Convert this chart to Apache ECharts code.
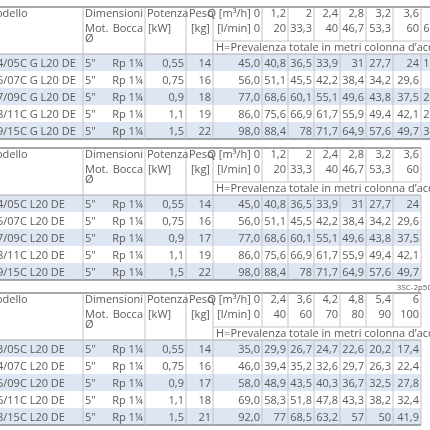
<!DOCTYPE html>
<html>
<head>
<meta charset="utf-8">
<script src="https://cdn.jsdelivr.net/npm/echarts@6/dist/echarts.min.js"></script>
<style>body{margin:0}#main{width:430px;height:430px}</style>
</head>
<body>
<div id="main"></div>
<script>
// dati delle tre tabelle
var blockTops = [7, 148, 293];
var models = [
  ['4/05C G L20 DE', '5/07C G L20 DE', '7/09C G L20 DE', '8/11C G L20 DE', '9/15C G L20 DE'],
  ['4/05C L20 DE', '5/07C L20 DE', '7/09C L20 DE', '8/11C L20 DE', '9/15C L20 DE'],
  ['3/05C L20 DE', '4/07C L20 DE', '5/09C L20 DE', '6/11C L20 DE', '8/15C L20 DE']
];
var mot = '5"';
var bocca = 'Rp 1¼';
var potenza = ['0,55', '0,75', '0,9', '1,1', '1,5'];
var peso = [[14, 16, 18, 19, 22], [14, 16, 17, 19, 22], [14, 16, 17, 18, 21]];
var qM3h = [['1,2', '2', '2,4', '2,8', '3,2', '3,6', '4'], ['1,2', '2', '2,4', '2,8', '3,2', '3,6'], ['2,4', '3,6', '4,2', '4,8', '5,4', '6']];
var qLmin = [['20', '33,3', '40', '46,7', '53,3', '60', '66,7'], ['20', '33,3', '40', '46,7', '53,3', '60'], ['40', '60', '70', '80', '90', '100']];
var heads = [
  [['45,0', '40,8', '36,5', '33,9', '31', '27,7', '24', '19,3'],
   ['56,0', '51,1', '45,5', '42,2', '38,4', '34,2', '29,6', ''],
   ['77,0', '68,6', '60,1', '55,1', '49,6', '43,8', '37,5', '28,9'],
   ['86,0', '75,6', '66,9', '61,7', '55,9', '49,4', '42,1', '29,5'],
   ['98,0', '88,4', '78', '71,7', '64,9', '57,6', '49,7', '38,6']],
  [['45,0', '40,8', '36,5', '33,9', '31', '27,7', '24'],
   ['56,0', '51,1', '45,5', '42,2', '38,4', '34,2', '29,6'],
   ['77,0', '68,6', '60,1', '55,1', '49,6', '43,8', '37,5'],
   ['86,0', '75,6', '66,9', '61,7', '55,9', '49,4', '42,1'],
   ['98,0', '88,4', '78', '71,7', '64,9', '57,6', '49,7']],
  [['35,0', '29,9', '26,7', '24,7', '22,6', '20,2', '17,4'],
   ['46,0', '39,4', '35,2', '32,6', '29,7', '26,3', '22,4'],
   ['58,0', '48,9', '43,5', '40,3', '36,7', '32,5', '27,8'],
   ['69,0', '58,3', '51,8', '47,8', '43,3', '38,2', '32,4'],
   ['92,0', '77', '68,5', '63,2', '57', '50', '41,9']]
];
var hLabel = ['H=Prevalenza totale in metri colonna d’acqua [m]', 'H=Prevalenza totale in metri colonna d’acqua', 'H=Prevalenza totale in metri colonna d’acqua'];

// layout
var leftLines = [83, 145, 186, 213];
var valLines = [262, 288, 314, 340, 366, 393, 421, 447];
var rowH = 17, headH = 47, subH = 34;
var TXT = '#5a5a5a';

var cells = [];   // sfondi righe
var texts = [];
var lines = [];
function T(x, y, s, align, size) { texts.push({ value: [x, y], s: s, align: align || 'left', size: size || 11 }); }

blockTops.forEach(function (top, b) {
  var nCols = heads[b][0].length;
  var right = valLines[nCols - 1];
  var y0 = top + headH, bottom = y0 + rowH * 5;
  for (var r = 0; r < 5; r++) {
    if (r % 2 === 0) cells.push({ value: [-2, y0 + r * rowH, right, y0 + (r + 1) * rowH] });
    var yc = y0 + r * rowH + rowH / 2 + 1;
    T(-3, yc, models[b][r]);
    T(85, yc, mot);
    T(143, yc, bocca, 'right');
    T(184, yc, potenza[r], 'right');
    T(211, yc, String(peso[b][r]), 'right');
    heads[b][r].forEach(function (v, c) { T(c === 0 ? 260 : valLines[c] - 2, yc, v, 'right'); });
  }
  // intestazioni
  T(-14, top + 7, 'Modello');
  T(85, top + 7, 'Dimensioni');
  T(147, top + 7, 'Potenza');
  T(189, top + 7, 'Peso');
  T(260, top + 7, 'Q [m³/h] 0', 'right');
  T(85, top + 22, 'Mot.');
  T(143, top + 22, 'Bocca', 'right');
  T(148, top + 22, '[kW]');
  T(191, top + 22, '[kg]');
  T(260, top + 22, '[l/min] 0', 'right');
  T(85, top + 32, 'Ø');
  qM3h[b].forEach(function (q, c) {
    T(valLines[c + 1] - 2, top + 7, q, 'right');
    T(valLines[c + 1] - 2, top + 22, qLmin[b][c], 'right');
  });
  T(216, top + 41, hLabel[b]);
  // linee
  lines.push({ value: [-2, top, right, top], w: 1.5, c: '#8a8a8a' });
  lines.push({ value: [-2, bottom, right, bottom], w: 1.5, c: '#8a8a8a' });
  lines.push({ value: [-2, y0, right, y0], w: 1, c: '#aaa' });
  lines.push({ value: [213, top + subH, right, top + subH], w: 1, c: '#c4c4c4' });
  leftLines.forEach(function (x) { lines.push({ value: [x, top, x, bottom], w: 1, c: '#c4c4c4' }); });
  valLines.slice(0, nCols).forEach(function (x) {
    lines.push({ value: [x, top, x, top + subH], w: 1, c: '#c4c4c4' });
    lines.push({ value: [x, y0, x, bottom], w: 1, c: '#c4c4c4' });
  });
});
T(432, 288, '3SC-2p50', 'right', 8);

var chart = echarts.init(document.getElementById('main'));
chart.setOption({
  animation: false,
  grid: { left: 0, right: 0, top: 0, bottom: 0 },
  xAxis: { type: 'value', min: 0, max: 430, show: false },
  yAxis: { type: 'value', min: 0, max: 430, inverse: true, show: false },
  series: [
    {
      type: 'custom', data: cells, silent: true,
      renderItem: function (p, api) {
        var a = api.coord([api.value(0), api.value(1)]), z = api.coord([api.value(2), api.value(3)]);
        return { type: 'rect', shape: { x: a[0], y: a[1], width: z[0] - a[0], height: z[1] - a[1] }, style: { fill: '#dde6f2' } };
      }
    },
    {
      type: 'custom', data: lines, silent: true,
      renderItem: function (p, api) {
        var d = lines[p.dataIndex];
        var a = api.coord([api.value(0), api.value(1)]), z = api.coord([api.value(2), api.value(3)]);
        return { type: 'line', shape: { x1: a[0], y1: a[1], x2: z[0], y2: z[1] }, style: { stroke: d.c, lineWidth: d.w } };
      }
    },
    {
      type: 'custom', data: texts, silent: true,
      renderItem: function (p, api) {
        var d = texts[p.dataIndex];
        var a = api.coord([api.value(0), api.value(1)]);
        return { type: 'text', x: a[0], y: a[1], style: { text: d.s, fill: TXT, fontFamily: 'Open Sans', fontSize: d.size, align: d.align, verticalAlign: 'middle' } };
      }
    }
  ]
});
</script>
</body>
</html>
